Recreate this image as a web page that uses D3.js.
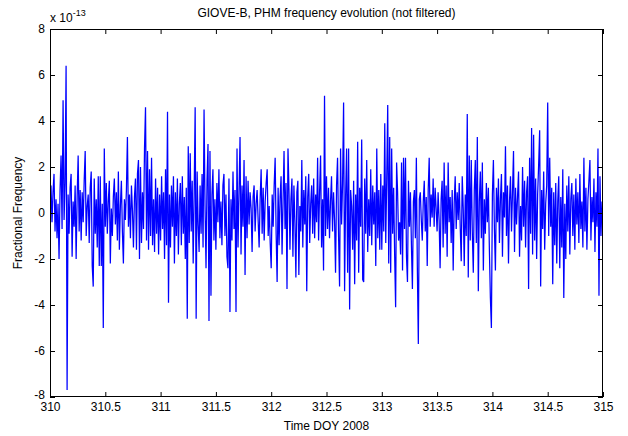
<!DOCTYPE html>
<html>
<head>
<meta charset="utf-8">
<script src="https://cdn.jsdelivr.net/npm/d3@7/dist/d3.min.js"></script>
<style>
  html, body { margin: 0; padding: 0; background: #fff; }
  svg { display: block; }
  text { font-family: "Liberation Sans", Arial, Helvetica, sans-serif; }
</style>
</head>
<body>
<svg id="chart" width="628" height="436"></svg>
<script>
// ---- Data (fractional frequency, units of 1e-13), one array per half day ----
const day310_0 = [0.3,1.2,-0.4,0.9,1.7,-0.8,0.6,-1.1,0.4,-2.0,1.0,2.5,-0.7,4.9,-0.3,1.3,6.4,-7.7,0.8,-0.9,1.1,1.7,-1.9,0.5,-0.6,1.2,-2.0,0.7,2.5,-0.8,1.0,-1.2,0.9,-0.4,1.4,2.7,-1.0,0.3,0.8,-1.3,1.1,1.8,-2.3,-3.2,1.5,-0.9,0.6,-1.5,1.6,-2.3,1.6,-2.3,0.4,-5.0,2.8];
const day310_5 = [-0.6,1.3,-0.9,0.5,1.4,-2.2,0.2,-1.0,0.7,1.5,-0.5,0.9,-1.2,1.8,-1.6,0.3,1.4,-0.8,-2.2,0.6,-0.3,1.0,3.3,-0.6,0.8,-1.1,1.2,0.1,-1.5,0.7,1.5,-1.6,1.7,2.3,-2.0,2.0,-1.3,0.9,-0.7,2.8,4.6,-1.2,2.7,-1.6,1.9,-1.0,2.4,-1.4,0.6,-1.7,1.5,-0.9,1.1,-1.8,0.8];
const day311_0 = [-1.2,1.6,-0.7,0.9,-2.0,1.9,-1.4,4.4,-3.9,0.8,-1.5,1.2,-0.6,1.6,-2.2,0.9,-1.0,1.5,-1.8,0.4,1.3,-1.4,1.6,-0.9,0.7,-2.0,1.1,-4.6,2.9,-1.3,2.6,-0.8,1.4,-2.2,0.9,4.6,-4.6,1.8,-0.5,-1.7,1.2,-0.9,1.7,-1.5,4.5,0.3,-2.4,1.4,3.0,-4.7,2.7,-3.6,0.8,1.9,-1.2,0.6];
const day311_5 = [-1.6,1.3,-0.4,1.9,-1.1,0.5,-1.4,1.2,1.7,-1.0,0.8,-1.9,-2.4,1.5,-4.3,0.6,-1.2,1.8,-0.7,1.0,-4.3,2.8,-1.5,0.9,3.3,-1.8,1.2,-0.6,2.3,-2.7,1.6,-1.1,1.4,-0.5,0.9,0.2,-1.7,0.7,1.2,-0.8,0.4,1.0,-0.3,-1.5,0.6,1.9,-0.9,1.1,-1.2,0.5,1.3,1.9,-1.0,0.3,-1.3];
const day312_0 = [-2.4,0.8,-0.6,1.2,2.4,-0.9,-3.0,1.1,-1.4,0.7,1.6,-1.8,0.5,2.7,-0.7,1.3,-3.3,2.8,1.0,-1.6,0.6,1.5,-1.9,1.2,-0.4,-2.8,0.9,1.4,-2.7,0.3,-0.8,2.3,-1.5,1.0,-0.5,1.6,-3.4,0.7,1.7,-1.3,0.4,1.2,-0.9,1.5,-1.1,0.8,-0.4,2.4,-1.2,0.9,2.5,-1.5,0.6,-2.5,5.1,-1.0];
const day312_5 = [1.6,-0.7,1.1,-1.1,0.5,1.6,-0.8,0.9,-0.3,-2.6,1.2,2.4,-1.0,-3.2,2.8,-0.5,1.3,4.8,-3.4,0.7,2.8,-2.6,2.8,-4.2,1.0,0.3,-1.6,1.4,-3.1,0.8,-1.2,3.1,-2.6,1.1,-0.6,3.2,-2.9,-3.0,1.5,-0.9,2.3,-1.7,0.6,-1.0,1.9,-1.4,1.2,-0.5,0.9,-2.3,2.8,-1.1,1.0,-1.6,1.7];
const day313_0 = [-1.6,1.2,-0.8,3.9,-1.3,1.5,4.7,-2.2,3.3,-2.6,2.8,-0.9,1.1,-1.8,-4.1,2.2,0.9,-1.2,-0.4,-1.8,2.2,-2.5,2.4,-0.7,2.4,-1.9,-3.0,1.4,-0.6,0.9,-1.4,-3.3,0.5,1.0,-1.1,2.4,-2.4,-5.7,0.6,0.9,-0.3,-1.2,0.5,1.4,-0.8,0.7,-2.3,1.0,2.4,-0.6,0.8,-0.2,1.5,-0.6,1.1,0.2];
const day313_5 = [-0.8,0.9,-0.3,-2.4,0.6,1.4,-1.5,2.2,-0.9,1.2,-1.9,2.2,-0.4,0.7,-1.3,1.0,-2.5,0.4,1.6,-0.7,0.9,-0.3,1.3,-0.6,-2.1,1.6,0.2,-2.3,0.8,-1.0,4.3,-2.8,2.5,-1.2,2.3,-0.8,-2.6,1.0,2.3,-1.3,3.3,-3.4,0.5,1.8,-1.1,2.2,-2.5,0.6,-0.9,1.3,-0.4,1.1,-1.6,-3.7,-5.0];
const day314_0 = [0.8,2.3,-0.7,-2.5,1.1,-0.4,1.5,-1.3,0.6,1.7,-1.9,0.9,-0.2,2.9,-1.0,1.2,-2.2,0.5,1.6,-0.8,0.9,2.7,-1.7,1.1,-0.5,0.7,1.8,-1.9,0.3,-1.2,2.0,-0.6,1.4,-1.5,0.9,1.6,-3.3,2.4,-0.9,3.7,-1.8,3.4,-1.2,1.5,-2.0,0.8,2.1,3.6,-3.2,1.0,-0.7,1.8,-1.6,0.4,1.2];
const day314_5 = [4.8,-1.0,2.4,-0.6,1.1,-3.1,0.9,-1.4,1.3,-2.2,0.5,1.6,-2.4,0.7,-1.5,1.9,-3.7,0.4,-2.0,1.2,-0.8,1.6,-1.8,0.6,1.3,-1.0,0.8,-1.6,1.5,-0.5,0.9,-1.3,1.7,-0.7,0.5,-1.5,2.4,-0.8,1.1,-1.6,0.6,1.4,2.3,-1.2,0.7,-0.4,1.5,-1.7,0.9,-0.6,2.8,-3.6,1.6,-1.0,0.5,-0.6];

const chunkStarts = [310, 310.5, 311, 311.5, 312, 312.5, 313, 313.5, 314, 314.5];
const chunks = [day310_0, day310_5, day311_0, day311_5, day312_0, day312_5, day313_0, day313_5, day314_0, day314_5];

const xTicks = [310, 310.5, 311, 311.5, 312, 312.5, 313, 313.5, 314, 314.5, 315];
const xTickLabels = ["310", "310.5", "311", "311.5", "312", "312.5", "313", "313.5", "314", "314.5", "315"];
const yTicks = [-8, -6, -4, -2, 0, 2, 4, 6, 8];
const yTickLabels = ["-8", "-6", "-4", "-2", "0", "2", "4", "6", "8"];

const titleText = "GIOVE-B, PHM frequency evolution (not filtered)";
const xLabelText = "Time DOY 2008";
const yLabelText = "Fractional Frequency";

// ---- Build points ----
const points = [];
chunks.forEach((arr, k) => {
  const last = k === chunks.length - 1;
  const step = 0.5 / (last ? arr.length - 1 : arr.length);
  arr.forEach((v, i) => points.push({ t: chunkStarts[k] + i * step, v }));
});

// ---- Layout ----
const W = 628, H = 436;
const plot = { left: 50, right: 603, top: 29, bottom: 397 };
const svg = d3.select("#chart");

const x = d3.scaleLinear().domain([310, 315]).range([plot.left, plot.right]);
const y = d3.scaleLinear().domain([-8, 8]).range([plot.bottom, plot.top]);

svg.append("rect").attr("x", 0).attr("y", 0).attr("width", W).attr("height", H).attr("fill", "#fff");

svg.append("defs").append("clipPath").attr("id", "clip")
  .append("rect").attr("x", plot.left).attr("y", plot.top)
  .attr("width", plot.right - plot.left).attr("height", plot.bottom - plot.top);

// data line
const line = d3.line().x(d => x(d.t)).y(d => y(d.v));
svg.append("path")
  .datum(points)
  .attr("clip-path", "url(#clip)")
  .attr("fill", "none")
  .attr("stroke", "#0000ff")
  .attr("stroke-width", 1.25)
  .attr("stroke-linejoin", "miter")
  .attr("d", line);

// axes
const fontSize = 12;
const tickLen = 5;
const xFmt = d => xTickLabels[xTicks.indexOf(d)];
const yFmt = d => yTickLabels[yTicks.indexOf(d)];

const gB = svg.append("g").attr("transform", `translate(0,${plot.bottom})`)
  .call(d3.axisBottom(x).tickValues(xTicks).tickFormat(xFmt).tickSizeInner(-tickLen).tickSizeOuter(0).tickPadding(5));
const gT = svg.append("g").attr("transform", `translate(0,${plot.top})`)
  .call(d3.axisTop(x).tickValues(xTicks).tickFormat("").tickSizeInner(-tickLen).tickSizeOuter(0));
const gL = svg.append("g").attr("transform", `translate(${plot.left},0)`)
  .call(d3.axisLeft(y).tickValues(yTicks).tickFormat(yFmt).tickSizeInner(-tickLen).tickSizeOuter(0).tickPadding(5));
const gR = svg.append("g").attr("transform", `translate(${plot.right},0)`)
  .call(d3.axisRight(y).tickValues(yTicks).tickFormat("").tickSizeInner(-tickLen).tickSizeOuter(0));

[gB, gT, gL, gR].forEach(g => {
  g.select(".domain").remove();
  g.selectAll(".tick line").attr("stroke", "#000").attr("stroke-width", 1);
  g.selectAll("text").attr("font-size", fontSize).attr("fill", "#000")
    .attr("font-family", "'Liberation Sans', Arial, Helvetica, sans-serif");
});
// the lowest y label sits slightly above its tick, as in the reference
gL.selectAll(".tick").filter(d => d === -8).select("text").attr("dy", "0.1em");

// frame
svg.append("rect")
  .attr("x", plot.left + 0.5).attr("y", plot.top + 0.5)
  .attr("width", plot.right - plot.left - 1).attr("height", plot.bottom - plot.top - 1)
  .attr("fill", "none").attr("stroke", "#000").attr("stroke-width", 1);

// exponent label
const expo = svg.append("text").attr("x", plot.left).attr("y", 22)
  .attr("font-size", fontSize).attr("fill", "#000");
expo.append("tspan").text("x 10");
expo.append("tspan").attr("dy", -6).attr("font-size", 9).text("-13");

// title
svg.append("text").attr("x", (plot.left + plot.right) / 2).attr("y", 17)
  .attr("text-anchor", "middle").attr("font-size", fontSize).attr("fill", "#000")
  .text(titleText);

// x label
svg.append("text").attr("x", (plot.left + plot.right) / 2).attr("y", 430)
  .attr("text-anchor", "middle").attr("font-size", fontSize).attr("fill", "#000")
  .text(xLabelText);

// y label
svg.append("text")
  .attr("transform", `translate(22,${(plot.top + plot.bottom) / 2}) rotate(-90)`)
  .attr("text-anchor", "middle").attr("font-size", fontSize).attr("fill", "#000")
  .text(yLabelText);
</script>
</body>
</html>
